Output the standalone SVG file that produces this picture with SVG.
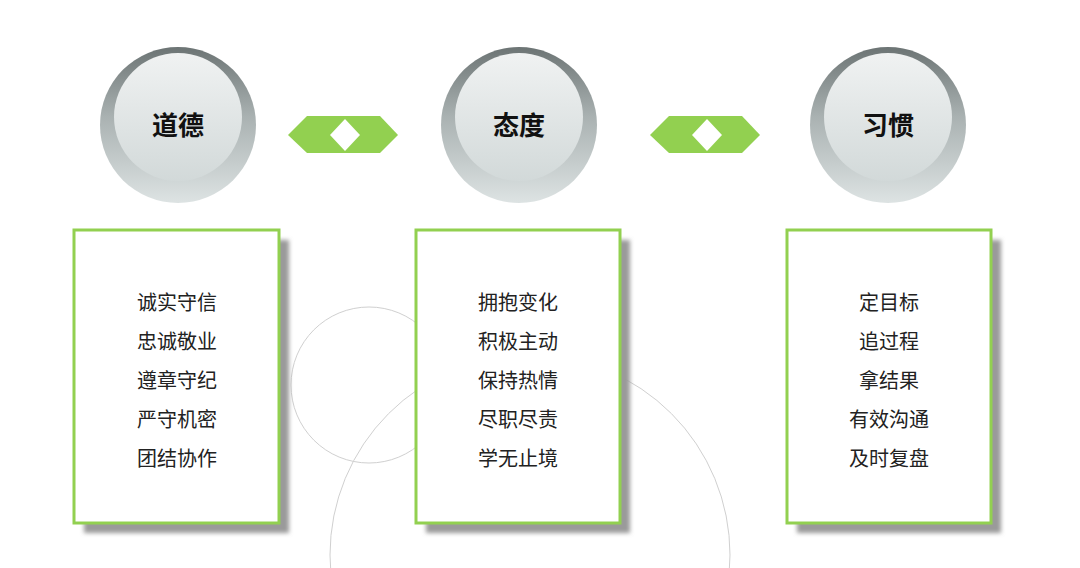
<svg xmlns="http://www.w3.org/2000/svg" width="1080" height="568" viewBox="0 0 1080 568">
<defs>
<linearGradient id="og" x1="0" y1="0" x2="0" y2="1"><stop offset="0" stop-color="#6c7474"/><stop offset="0.45" stop-color="#aab2b2"/><stop offset="1" stop-color="#dde3e3"/></linearGradient>
<linearGradient id="ig" x1="0" y1="0" x2="0" y2="1"><stop offset="0" stop-color="#f0f2f2"/><stop offset="1" stop-color="#d2d9d9"/></linearGradient>
<filter id="sh" x="-10%" y="-10%" width="130%" height="130%"><feGaussianBlur stdDeviation="2"/></filter>
</defs>
<style>
.t{font-family:"Noto Sans CJK SC","Liberation Sans",sans-serif;font-weight:bold;font-size:26px;fill:#111;text-anchor:middle}
.l{font-family:"Noto Sans CJK SC","Liberation Sans",sans-serif;font-size:20px;fill:#222;text-anchor:middle}
.box{fill:#fff;stroke:#92d050;stroke-width:3}
.shadow{fill:#9a9a9a;filter:url(#sh)}
.bg{fill:none;stroke:#d0d0d0;stroke-width:1}
.hex{fill:#92d050}
</style>
<rect width="1080" height="568" fill="#fff"/>
<circle class="bg" cx="369" cy="385" r="78"/>
<circle class="bg" cx="530" cy="555" r="200"/>
<g id="connectors">
<polygon class="hex" points="288,135 307,116 380,116 398,135 380,153 307,153"/>
<polygon fill="#fff" points="345,119 360,135 345,151 330,135"/>
<polygon class="hex" points="650,135 669,116 742,116 760,135 742,153 669,153"/>
<polygon fill="#fff" points="707,119 722,135 707,151 692,135"/>
</g>
<g id="c1"><circle cx="178" cy="125" r="78" fill="url(#og)"/><circle cx="178" cy="117" r="64" fill="url(#ig)"/><text class="t" x="178" y="135">道德</text></g>
<g id="c2"><circle cx="519" cy="125" r="78" fill="url(#og)"/><circle cx="519" cy="117" r="64" fill="url(#ig)"/><text class="t" x="519" y="135">态度</text></g>
<g id="c3"><circle cx="888" cy="125" r="78" fill="url(#og)"/><circle cx="888" cy="117" r="64" fill="url(#ig)"/><text class="t" x="888" y="135">习惯</text></g>
<g id="b1"><rect class="shadow" x="84" y="240" width="205" height="293"/><rect class="box" x="74" y="230" width="205" height="293"/>
<text class="l" x="177" y="310">诚实守信</text><text class="l" x="177" y="349">忠诚敬业</text><text class="l" x="177" y="388">遵章守纪</text><text class="l" x="177" y="427">严守机密</text><text class="l" x="177" y="466">团结协作</text></g>
<g id="b2"><rect class="shadow" x="426" y="240" width="204" height="293"/><rect class="box" x="416" y="230" width="204" height="293"/>
<text class="l" x="518" y="310">拥抱变化</text><text class="l" x="518" y="349">积极主动</text><text class="l" x="518" y="388">保持热情</text><text class="l" x="518" y="427">尽职尽责</text><text class="l" x="518" y="466">学无止境</text></g>
<g id="b3"><rect class="shadow" x="797" y="240" width="204" height="293"/><rect class="box" x="787" y="230" width="204" height="293"/>
<text class="l" x="889" y="310">定目标</text><text class="l" x="889" y="349">追过程</text><text class="l" x="889" y="388">拿结果</text><text class="l" x="889" y="427">有效沟通</text><text class="l" x="889" y="466">及时复盘</text></g>
</svg>
